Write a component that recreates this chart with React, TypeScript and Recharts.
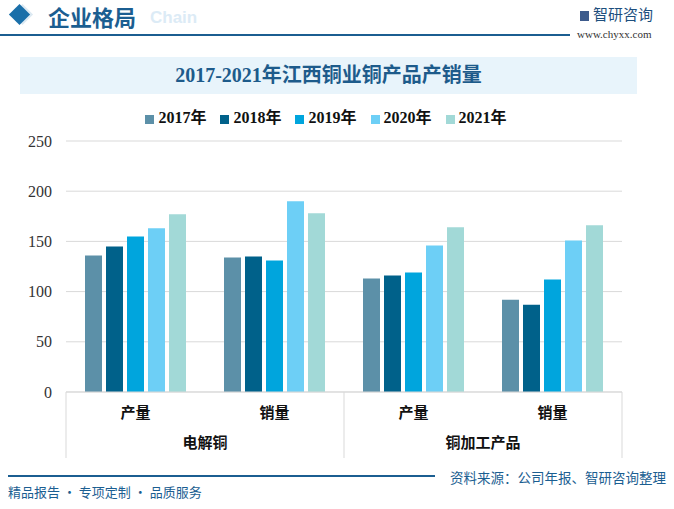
import { BarChart, Bar, XAxis, YAxis, CartesianGrid, Legend } from 'recharts';

const categories = ['产量', '销量', '产量', '销量'];
const groups = ['电解铜', '铜加工产品'];
const years = ['2017年', '2018年', '2019年', '2020年', '2021年'];

const v2017 = [136, 134, 113, 92];
const v2018 = [145, 135, 116, 87];
const v2019 = [155, 131, 119, 112];
const v2020 = [163, 190, 146, 151];
const v2021 = [177, 178, 164, 166];

const yTicks = [0, 50, 100, 150, 200, 250];
const colors = ['#5c90a8', '#00618a', '#00a5dd', '#6dcff6', '#a2d9d7'];

const series = [v2017, v2018, v2019, v2020, v2021];
const data = categories.map((c, i) => {
  const row: any = { name: c, group: groups[Math.floor(i / 2)] };
  years.forEach((y, k) => (row[y] = series[k][i]));
  return row;
});

const serif = '"Liberation Serif", "Noto Sans CJK SC", serif';
const cjk = '"Noto Sans CJK SC", sans-serif';
const blue = '#1b5e91';

// plot is 556px wide, 4 bands
const BAND = 139;

const CatTick = (props: any) => {
  const { x, y, payload } = props;
  const i = payload.index;
  return (
    <g>
      <text x={x} y={y + 26} textAnchor="middle" fontFamily={cjk} fontSize={15} fontWeight={700} fill="#111">
        {payload.value}
      </text>
      {i % 2 === 0 && (
        <>
          <line x1={x - BAND / 2} y1={y} x2={x - BAND / 2} y2={y + 66} stroke="#d9d9d9" />
          <text x={x + BAND / 2} y={y + 56} textAnchor="middle" fontFamily={cjk} fontSize={15} fontWeight={700} fill="#111">
            {groups[i / 2]}
          </text>
        </>
      )}
      {i === categories.length - 1 && (
        <line x1={x + BAND / 2} y1={y} x2={x + BAND / 2} y2={y + 66} stroke="#d9d9d9" />
      )}
    </g>
  );
};

export default function App() {
  return (
    <div style={{ position: 'absolute', left: 0, top: 0, width: 674, height: 509, background: '#fff', overflow: 'hidden' }}>
      {/* header */}
      <div style={{ position: 'absolute', left: 15, top: 7, width: 15, height: 15, background: '#dce9f2', transform: 'rotate(45deg)' }} />
      <div style={{ position: 'absolute', left: 12, top: 7, width: 15, height: 15, background: '#1a6fa9', transform: 'rotate(45deg)' }} />
      <div style={{ position: 'absolute', left: 150, top: 8, fontFamily: 'Arial, sans-serif', fontWeight: 700, fontSize: 17, color: '#dcebf6' }}>
        Chain
      </div>
      <div style={{ position: 'absolute', left: 48, top: 1, fontFamily: cjk, fontWeight: 700, fontSize: 22, color: blue, lineHeight: '30px' }}>
        企业格局
      </div>
      <div style={{ position: 'absolute', left: 0, top: 34, width: 570, height: 2, background: blue }} />
      <div style={{ position: 'absolute', left: 580, top: 4, fontFamily: cjk, fontSize: 15, color: '#1d4f7e', lineHeight: '20px' }}>
        <span style={{ display: 'inline-block', width: 9, height: 10, background: '#3d5b8c', marginRight: 4, verticalAlign: -1 }} />
        智研咨询
      </div>
      <div style={{ position: 'absolute', left: 577, top: 28, fontFamily: serif, fontSize: 11, color: '#333' }}>www.chyxx.com</div>

      {/* title */}
      <div
        style={{
          position: 'absolute', left: 20, top: 57, width: 617, height: 37, background: '#e8f4fb',
          textAlign: 'center', lineHeight: '37px', fontFamily: serif, fontWeight: 700, fontSize: 20, color: '#1d5b8b',
        }}
      >
        2017-2021年江西铜业铜产品产销量
      </div>

      <div style={{ position: 'absolute', left: 0, top: 100 }}>
        <BarChart width={674} height={370} data={data} margin={{ top: 17, right: 52, bottom: 12, left: 0 }} barSize={17} barGap={4}>
          <CartesianGrid vertical={false} stroke="#d9d9d9" />
          <XAxis dataKey="name" axisLine={{ stroke: '#d9d9d9' }} tickLine={false} tickSize={0} tickMargin={0} height={66} interval={0} tick={<CatTick />} />
          <YAxis
            domain={[0, 250]}
            ticks={yTicks}
            width={66}
            axisLine={false}
            tickLine={false}
            tickMargin={8}
            tick={{ fontFamily: serif, fontSize: 16, fill: '#333' }}
          />
          <Legend
            verticalAlign="top"
            align="center"
            iconType="square"
            iconSize={9}
            wrapperStyle={{ top: 4, left: 22, fontFamily: serif, fontSize: 16, fontWeight: 700 }}
            formatter={(v: string) => <span style={{ color: '#111', paddingRight: 4 }}>{v}</span>}
          />
          {years.map((y, k) => (
            <Bar key={y} dataKey={y} fill={colors[k]} isAnimationActive={false} />
          ))}
        </BarChart>
      </div>

      {/* footer */}
      <div style={{ position: 'absolute', left: 8, top: 475, width: 427, height: 1.5, background: blue }} />
      <div style={{ position: 'absolute', left: 8, top: 482, fontFamily: cjk, fontSize: 13, color: blue }}>精品报告 · 专项定制 · 品质服务</div>
      <div style={{ position: 'absolute', left: 450, top: 467, fontFamily: cjk, fontSize: 13.5, color: blue }}>资料来源：公司年报、智研咨询整理</div>
    </div>
  );
}
